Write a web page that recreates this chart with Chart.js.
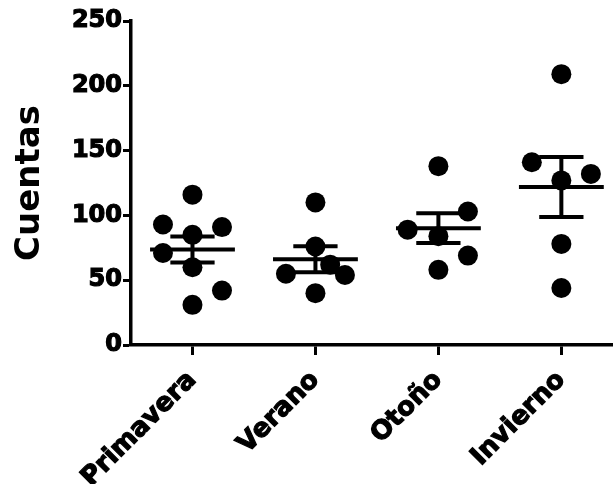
<!DOCTYPE html>
<html lang="es">
<head>
<meta charset="UTF-8">
<title>Cuentas por estación</title>
<script src="https://cdn.jsdelivr.net/npm/chart.js"></script>
<style>
  body { margin: 0; background: #fff; }
  #wrap { width: 613px; height: 484px; }
</style>
</head>
<body>
<div id="wrap"><canvas id="chart"></canvas></div>
<script>
const estaciones = ['Primavera', 'Verano', 'Otoño', 'Invierno'];
const primavera = [116, 93, 91, 85, 71, 60, 42, 31];
const verano = [110, 76, 62, 55, 54, 40];
const otono = [138, 103, 89, 84, 69, 58];
const invierno = [209, 141, 132, 127, 78, 44];
// desplazamiento horizontal de cada punto (en unidades de categoría)
const jitPrimavera = [0, -0.24, 0.24, 0, -0.24, 0, 0.24, 0];
const jitVerano = [0, 0, 0.12, -0.24, 0.24, 0];
const jitOtono = [0, 0.24, -0.25, 0, 0.24, 0];
const jitInvierno = [0, -0.24, 0.24, 0, 0, 0];

const grupos = [primavera, verano, otono, invierno];
const jitter = [jitPrimavera, jitVerano, jitOtono, jitInvierno];

const media = a => a.reduce((s, v) => s + v, 0) / a.length;
const sem = a => {
    const m = media(a);
    return Math.sqrt(a.reduce((s, v) => s + (v - m) ** 2, 0) / (a.length - 1)) / Math.sqrt(a.length);
};

const puntos = [];
const lineaMedia = [];
const barras = [];
grupos.forEach((vals, i) => {
    const c = i + 1, m = media(vals), e = sem(vals);
    vals.forEach((v, j) => puntos.push({ x: c + jitter[i][j], y: v }));
    lineaMedia.push({ x: c - 0.345, y: m }, { x: c + 0.345, y: m }, { x: c, y: null });
    barras.push(
        { x: c, y: m - e }, { x: c, y: m + e }, { x: c, y: null },
        { x: c - 0.18, y: m + e }, { x: c + 0.18, y: m + e }, { x: c, y: null },
        { x: c - 0.18, y: m - e }, { x: c + 0.18, y: m - e }, { x: c, y: null }
    );
});

const fuente = 'DejaVu Sans';

new Chart(document.getElementById('chart'), {
    type: 'scatter',
    data: {
        datasets: [
            { data: puntos, pointRadius: 10, pointBackgroundColor: '#000', pointBorderWidth: 0, showLine: false },
            { data: lineaMedia, showLine: true, spanGaps: false, borderColor: '#000', borderWidth: 4, pointRadius: 0, borderCapStyle: 'butt' },
            { data: barras, showLine: true, spanGaps: false, borderColor: '#000', borderWidth: 4, pointRadius: 0, borderCapStyle: 'butt' }
        ]
    },
    options: {
        responsive: true,
        maintainAspectRatio: false,
        animation: false,
        layout: { autoPadding: false, padding: { top: 21, right: 0, left: 0, bottom: 0 } },
        plugins: { legend: { display: false }, tooltip: { enabled: false } },
        scales: {
            x: {
                type: 'linear',
                position: 'bottom',
                min: 0.5,
                max: 4.42,
                afterBuildTicks: s => { s.ticks = [1, 2, 3, 4].map(v => ({ value: v })); },
                afterFit: s => { s.height = 139; s.paddingLeft = 0; s.paddingRight = 0; },
                ticks: {
                    callback: v => estaciones[v - 1],
                    autoSkip: false,
                    maxRotation: 45,
                    minRotation: 45,
                    color: '#000',
                    textStrokeColor: '#000',
                    textStrokeWidth: 1.2,
                    padding: 10,
                    font: { family: fuente, size: 26, weight: 'bold' }
                },
                grid: { drawOnChartArea: false, drawTicks: true, tickLength: 10, tickWidth: 3, tickColor: '#000' },
                border: { color: '#000', width: 3.5 }
            },
            y: {
                min: 0,
                max: 250,
                afterFit: s => { s.width = 131; },
                ticks: {
                    stepSize: 50,
                    color: '#000',
                    textStrokeColor: '#000',
                    textStrokeWidth: 1.2,
                    padding: 1,
                    font: { family: fuente, size: 24, weight: 'bold' }
                },
                grid: { drawOnChartArea: false, drawTicks: true, tickLength: 8, tickWidth: 3, tickColor: '#000' },
                border: { color: '#000', width: 3.5 },
                title: {
                    display: true,
                    text: 'Cuentas',
                    color: '#000',
                    padding: { top: 10, bottom: 0 },
                    font: { family: fuente, size: 34, weight: 'bold' }
                }
            }
        }
    }
});
</script>
</body>
</html>
